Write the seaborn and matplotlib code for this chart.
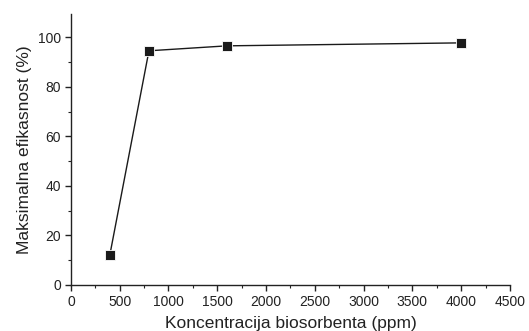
import matplotlib
matplotlib.use("Agg")
import matplotlib.pyplot as plt
import seaborn as sns
import pandas as pd
from matplotlib.ticker import MultipleLocator

concentration = [400, 800, 1600, 4000]
efficiency = [12.3, 94.6, 96.6, 97.8]

sns.set_theme(style="ticks")
plt.rcParams['font.family'] = ['Liberation Sans', 'DejaVu Sans']

df = pd.DataFrame({"x": concentration, "y": efficiency})

fig = plt.figure(figsize=(5.29, 3.31), dpi=100)
ax = fig.add_axes([0.134, 0.139, 0.830, 0.819])
sns.lineplot(data=df, x="x", y="y", ax=ax, color="#1a1a1a", linewidth=1.0,
             marker="s", markersize=7, markeredgecolor="white", markeredgewidth=0.6)

ax.set_xlim(0, 4500)
ax.set_ylim(0, 109.5)
ax.xaxis.set_major_locator(MultipleLocator(500))
ax.xaxis.set_minor_locator(MultipleLocator(250))
ax.yaxis.set_major_locator(MultipleLocator(20))
ax.yaxis.set_minor_locator(MultipleLocator(10))
ax.tick_params(axis="both", which="major", direction="out", length=4, width=1, labelsize=10, color="#222222", labelcolor="#222222", pad=3)
ax.tick_params(axis="both", which="minor", direction="out", length=2, width=0.8, color="#222222")
for s in ["top", "right"]:
    ax.spines[s].set_visible(False)
for s in ["left", "bottom"]:
    ax.spines[s].set_color("#222222")
    ax.spines[s].set_linewidth(1.0)
ax.set_xlabel("Koncentracija biosorbenta (ppm)", fontsize=12.5, color="#222222", labelpad=5)
ax.set_ylabel("Maksimalna efikasnost (%)", fontsize=12.5, color="#222222", labelpad=4)

fig.savefig("out.png", dpi=100)
